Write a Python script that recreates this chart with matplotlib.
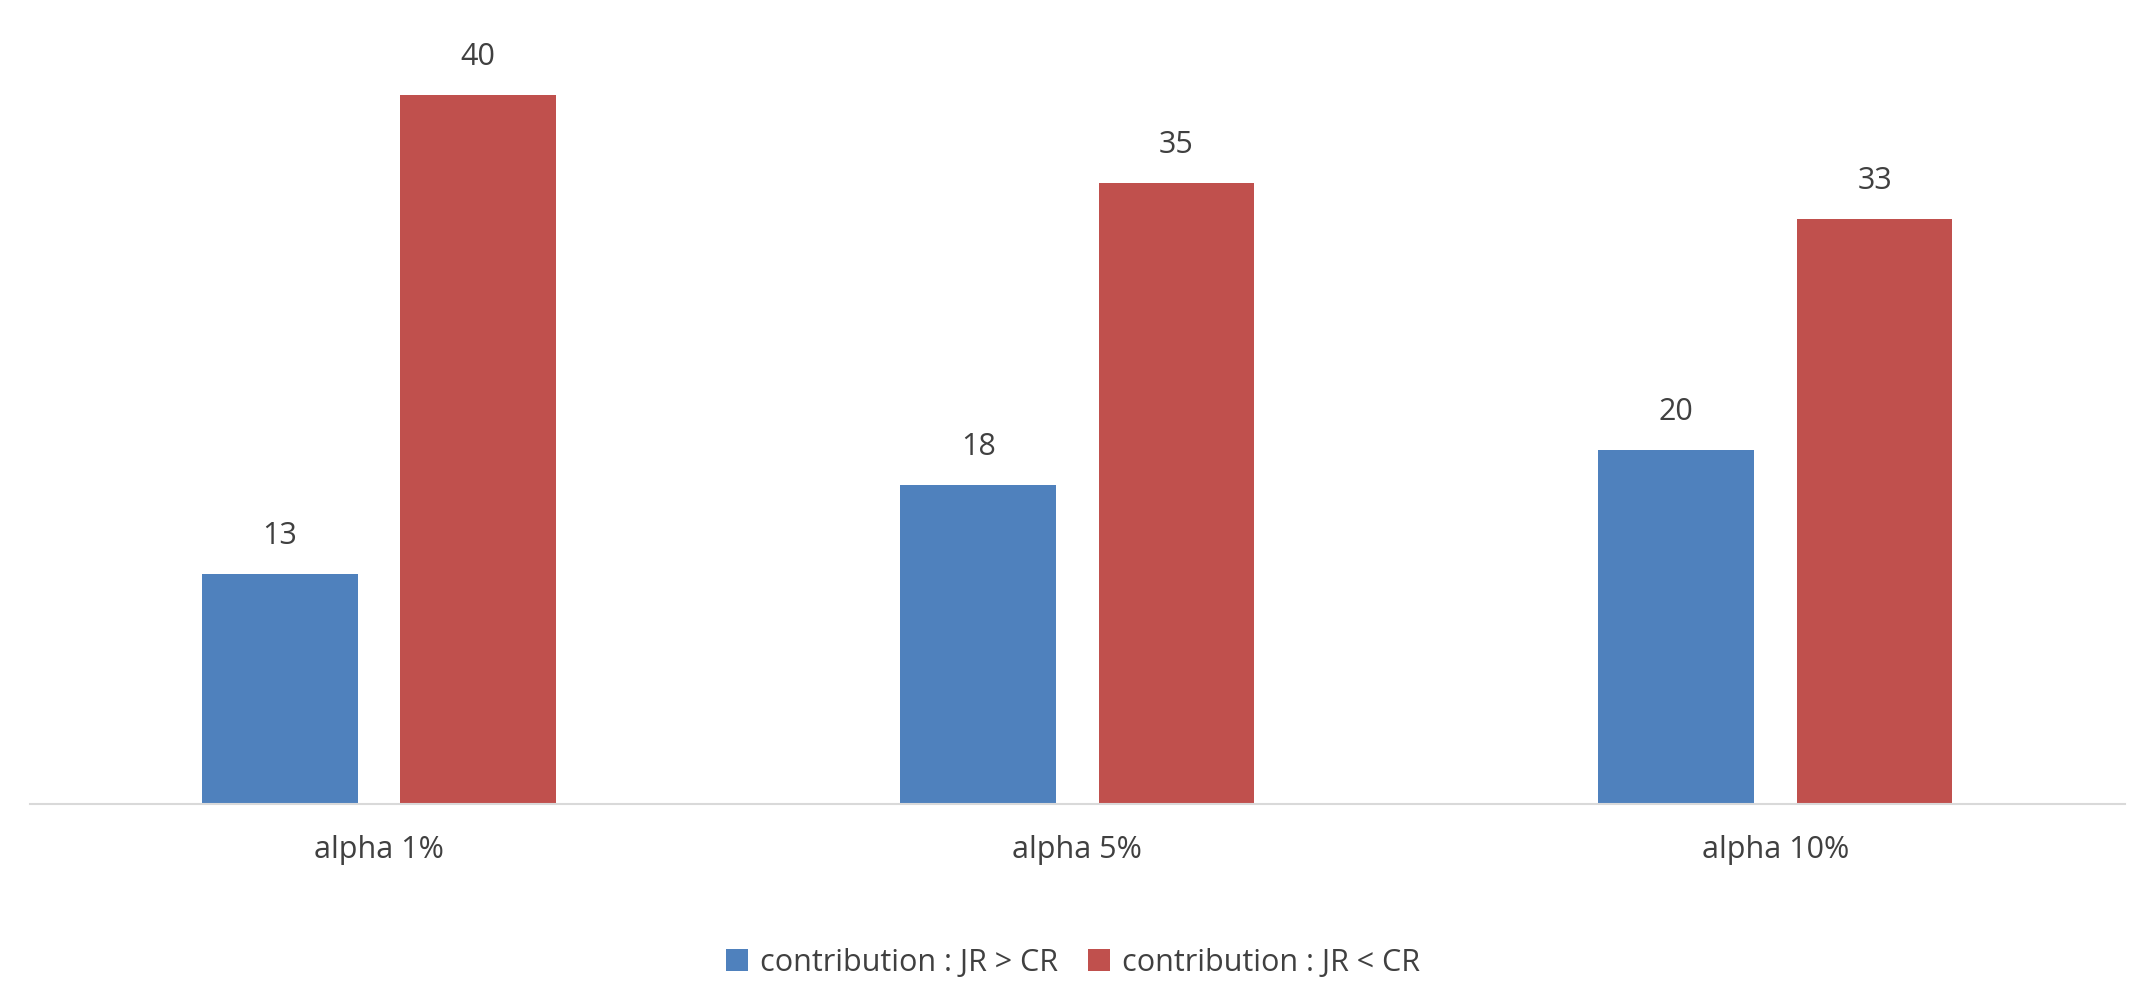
import numpy as np
import matplotlib.pyplot as plt

categories = ["alpha 1%", "alpha 5%", "alpha 10%"]
jr_gt_cr = [13, 18, 20]
jr_lt_cr = [40, 35, 33]
series_names = ["contribution : JR > CR", "contribution : JR < CR"]

plt.rcParams['font.family'] = ['Open Sans', 'DejaVu Sans']
fig = plt.figure(figsize=(21.46, 10.08), dpi=100)
ax = fig.add_axes([0.014, 0.202, 0.976, 0.704])

x = np.arange(len(categories))
w = 0.223
off = 0.142
b1 = ax.bar(x - off, jr_gt_cr, w, color="#4F81BD", label=series_names[0])
b2 = ax.bar(x + off, jr_lt_cr, w, color="#C0504D", label=series_names[1])
for bars in (b1, b2):
    for b in bars:
        ax.text(b.get_x() + b.get_width() / 2, b.get_height() + 1.3, str(int(b.get_height())),
                ha="center", va="bottom", fontsize=22, color="#404040", clip_on=False)

ax.set_xlim(-0.5, 2.5)
ax.set_ylim(0, 40)
ax.set_yticks([])
ax.set_xticks(x)
ax.set_xticklabels(categories, fontsize=22, color="#404040")
ax.tick_params(axis="x", length=0, pad=22)
for s in ["top", "right", "left"]:
    ax.spines[s].set_visible(False)
ax.spines["bottom"].set_color("#D9D9D9")
ax.spines["bottom"].set_linewidth(1.5)

fig.legend(handles=[b1, b2], loc="center", bbox_to_anchor=(0.5, 0.045), ncol=2, frameon=False,
           fontsize=22, handlelength=0.7, handleheight=0.7, columnspacing=1.0, handletextpad=0.4,
           labelcolor="#404040")

fig.savefig("out.png")
